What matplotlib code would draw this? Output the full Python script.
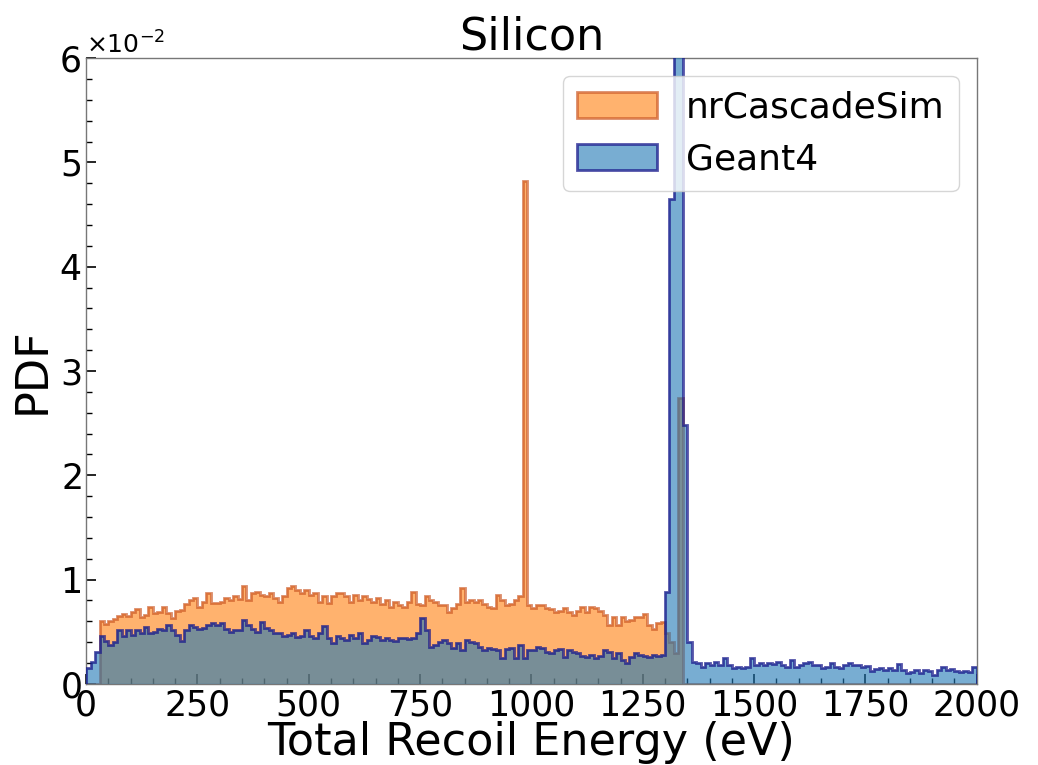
import numpy as np
import matplotlib
matplotlib.use("Agg")
import matplotlib.pyplot as plt
from matplotlib.ticker import ScalarFormatter, MultipleLocator
from matplotlib.patches import Patch

# ---- data (PDF values in units of 1e-2, 10 eV bins from 0 to 2000 eV) ----
bin_edges = np.linspace(0, 2000, 201)

nrcascade_vals = (
    [0.0, 0.0, 0.0]
    + [0.60, 0.57, 0.60, 0.62, 0.65, 0.67, 0.65, 0.69, 0.72, 0.645,
       0.66, 0.74, 0.68, 0.685, 0.74, 0.68, 0.63, 0.70, 0.71, 0.77,
       0.80, 0.82, 0.74, 0.79, 0.87, 0.78, 0.78, 0.79, 0.82, 0.80,
       0.84, 0.81, 0.94, 0.80, 0.875, 0.885, 0.855, 0.84, 0.87, 0.82,
       0.79, 0.84, 0.916, 0.94, 0.90, 0.87, 0.90, 0.855, 0.87, 0.79,
       0.84, 0.78, 0.84, 0.87, 0.875, 0.84, 0.79, 0.855, 0.80, 0.84,
       0.81, 0.79, 0.82, 0.77, 0.80, 0.74, 0.79, 0.76, 0.74, 0.79]
    + [0.885, 0.77, 0.76, 0.84, 0.80, 0.79, 0.76, 0.76, 0.69, 0.725,
       0.77, 0.916, 0.79, 0.80, 0.79, 0.80, 0.77, 0.74, 0.725, 0.855,
       0.80, 0.76, 0.77, 0.80, 0.84, 4.82, 0.76, 0.725, 0.76, 0.76,
       0.725, 0.72, 0.69, 0.70, 0.725, 0.69, 0.66, 0.70, 0.74, 0.69,
       0.74, 0.725, 0.70, 0.66, 0.566, 0.645, 0.566, 0.645, 0.60, 0.615,
       0.645, 0.645, 0.675, 0.566, 0.53, 0.58, 0.59]
    + [0.49, 0.40, 0.30, 2.74]
)
nrcascade_vals = nrcascade_vals + [0.0] * (200 - len(nrcascade_vals))

geant4_vals = (
    [0.15, 0.21, 0.31]
    + [0.46, 0.41, 0.374, 0.40, 0.517, 0.455, 0.517, 0.47, 0.517, 0.486,
       0.55, 0.486, 0.50, 0.53, 0.517, 0.565, 0.517, 0.47, 0.415, 0.517,
       0.565, 0.55, 0.53, 0.54, 0.565, 0.588, 0.565, 0.58, 0.53, 0.50,
       0.517, 0.52, 0.61, 0.565, 0.53, 0.50, 0.597, 0.54, 0.517, 0.49,
       0.486, 0.46, 0.47, 0.49, 0.447, 0.46, 0.517, 0.46, 0.437, 0.486,
       0.556, 0.437, 0.39, 0.455, 0.437, 0.42, 0.47, 0.437, 0.486, 0.39,
       0.42, 0.455, 0.447, 0.42, 0.437, 0.42, 0.415, 0.437, 0.44, 0.43,
       0.44, 0.49]
    + [0.63, 0.517]
    + [0.358, 0.374, 0.406, 0.422, 0.39, 0.342, 0.39, 0.326, 0.422, 0.406,
       0.39, 0.358, 0.326, 0.342, 0.332, 0.326, 0.246, 0.332, 0.342, 0.246,
       0.374, 0.246, 0.326, 0.326, 0.358, 0.342, 0.31, 0.294, 0.326, 0.332,
       0.262, 0.326, 0.31, 0.294, 0.268, 0.262, 0.278, 0.246, 0.268, 0.326,
       0.31, 0.246, 0.294, 0.23, 0.198, 0.262, 0.294, 0.278, 0.268, 0.26,
       0.28, 0.27, 0.28]
    + [0.885, 4.65, 9.0, 10.0, 2.48, 0.405]
    + [0.214, 0.198, 0.166, 0.198, 0.18, 0.214, 0.182, 0.246, 0.182, 0.15,
       0.166, 0.15, 0.16, 0.246, 0.182, 0.198, 0.182, 0.198, 0.19, 0.214,
       0.182, 0.166, 0.23, 0.166, 0.182, 0.198, 0.214, 0.182, 0.182, 0.15,
       0.166, 0.198, 0.166, 0.15, 0.182, 0.198, 0.182, 0.182, 0.166, 0.17,
       0.128, 0.141, 0.15, 0.134, 0.15, 0.134, 0.192, 0.134, 0.108, 0.118,
       0.134, 0.102, 0.134, 0.12, 0.086, 0.134, 0.166, 0.134, 0.141, 0.128,
       0.118, 0.12, 0.11, 0.166]
)

labels = ["nrCascadeSim", "Geant4"]
title = "Silicon"
xlabel = "Total Recoil Energy (eV)"
ylabel = "PDF"
x_ticks = [0, 250, 500, 750, 1000, 1250, 1500, 1750, 2000]

# ---- plotting ----
centers = 0.5 * (bin_edges[:-1] + bin_edges[1:])
w_orange = np.array(nrcascade_vals) * 1e-2
w_blue = np.array(geant4_vals) * 1e-2

fig = plt.figure(figsize=(10.38, 7.65), dpi=100)
ax = fig.add_axes([0.083, 0.106, 0.858, 0.818])

orange_fill = "#ff7f0e"
orange_edge = "#cc5a26"
blue_fill = "#1f77b4"
blue_edge = "#1a1a8c"

ax.hist(centers, bins=bin_edges, weights=w_orange, histtype="stepfilled",
        color=orange_fill, alpha=0.6, linewidth=0, zorder=2)
ax.hist(centers, bins=bin_edges, weights=w_orange, histtype="step",
        color=orange_edge, alpha=0.7, linewidth=2.0, zorder=3)
ax.hist(centers, bins=bin_edges, weights=w_blue, histtype="stepfilled",
        color=blue_fill, alpha=0.6, linewidth=0, zorder=4)
ax.hist(centers, bins=bin_edges, weights=w_blue, histtype="step",
        color=blue_edge, alpha=0.75, linewidth=2.0, zorder=5)

ax.set_xlim(0, 2000)
ax.set_ylim(0, 0.06)
ax.set_xticks(x_ticks)
ax.xaxis.set_minor_locator(MultipleLocator(50))
ax.yaxis.set_major_locator(MultipleLocator(0.01))
ax.yaxis.set_minor_locator(MultipleLocator(0.002))

fmt = ScalarFormatter(useMathText=True)
fmt.set_powerlimits((-1, 1))
ax.yaxis.set_major_formatter(fmt)
ax.yaxis.get_offset_text().set_fontsize(18)

ax.tick_params(axis="both", which="both", direction="in", labelsize=25)
ax.tick_params(axis="both", which="major", length=7, width=1.2)
ax.tick_params(axis="both", which="minor", length=4, width=1.0)

for s in ax.spines.values():
    s.set_color("#777777")
    s.set_linewidth(1.0)

ax.set_title(title, fontsize=32, pad=6)
ax.set_xlabel(xlabel, fontsize=32, labelpad=-1)
ax.set_ylabel(ylabel, fontsize=32)

handles = [
    Patch(facecolor=(1.0, 0.498, 0.055, 0.6), edgecolor=(0.80, 0.35, 0.15, 0.7), linewidth=2.0),
    Patch(facecolor=(0.122, 0.467, 0.706, 0.6), edgecolor=(0.10, 0.10, 0.55, 0.75), linewidth=2.0),
]
ax.legend(handles, labels, loc="upper right", fontsize=26, handlelength=2.2,
          framealpha=0.8)

fig.savefig("out.png", dpi=100)
